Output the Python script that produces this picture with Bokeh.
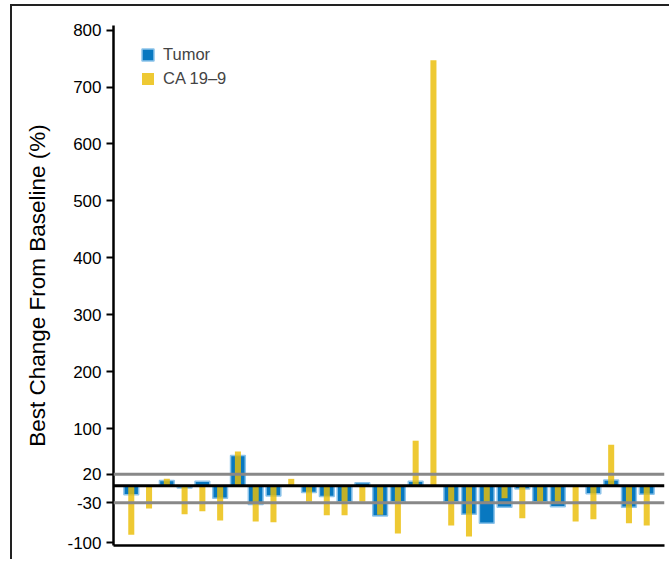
from bokeh.plotting import figure
from bokeh.models import ColumnDataSource, Span, FixedTicker, Legend, LegendItem
from bokeh.embed import file_html
from bokeh.resources import INLINE

patients = list(range(1, 31))
tumor = [-16, None, 9, -4, 8, -22, 53, -33, -18, None, -12, -19, -28, 5, -53,
         -28, 8, None, -28, -50, -66, -38, -6, -28, -37, None, -14, 10, -38, -15]
ca199 = [-86, -40, 12, -50, -45, -61, 60, -63, -64, 12, -28, -52, -52, -28, -51,
         -84, 79, 747, -70, -89, -28, -22, -57, -28, -28, -63, -59, 72, -66, -70]
y_ticks = [-100, -30, 20, 100, 200, 300, 400, 500, 600, 700, 800]
ref_lines = [20, -30]

FONT = "Liberation Sans"

tx = [p for p, t in zip(patients, tumor) if t is not None]
tv = [t for t in tumor if t is not None]
src_t = ColumnDataSource(dict(x=tx, top=tv))
src_c = ColumnDataSource(dict(x=patients, top=ca199))

p = figure(width=659, height=555, x_range=(0, 31), y_range=(-105, 808),
           output_backend="svg", toolbar_location=None,
           min_border_left=101, min_border_top=19, min_border_right=7,
           min_border_bottom=16)
p.styles = {"margin-left": "10px", "margin-top": "4px",
            "border-left": "2px solid #222", "border-top": "2px solid #222"}
p.outline_line_color = None
p.xgrid.visible = False
p.ygrid.visible = False

rt = p.vbar(x="x", top="top", bottom=0, width=0.83, source=src_t,
            fill_color="#0878C0", line_color="#8cc3ea", line_width=1.5)
rc = p.vbar(x="x", top="top", bottom=0, width=0.34, source=src_c,
            fill_color="#EABD06", fill_alpha=0.82, line_color=None)

for v in ref_lines:
    p.add_layout(Span(location=v, dimension="width", line_color="#888888", line_width=3))
p.add_layout(Span(location=0, dimension="width", line_color="black", line_width=3))

p.yaxis.ticker = FixedTicker(ticks=y_ticks)
p.yaxis.major_label_overrides = {t: str(t) for t in y_ticks}
p.yaxis.minor_tick_line_color = None
p.yaxis.major_tick_out = 7
p.yaxis.major_tick_in = 0
p.yaxis.major_tick_line_width = 2
p.yaxis.axis_line_width = 2.5
p.yaxis.major_label_text_font = FONT
p.yaxis.major_label_text_font_size = "17px"
p.yaxis.major_label_text_color = "black"
p.yaxis.axis_label = "Best Change From Baseline (%)"
p.yaxis.axis_label_text_font = FONT
p.yaxis.axis_label_text_font_size = "22.5px"
p.yaxis.axis_label_text_font_style = "normal"
p.yaxis.axis_label_text_color = "black"
p.yaxis.axis_label_standoff = 14

p.xaxis.ticker = FixedTicker(ticks=[])
p.xaxis.minor_tick_line_color = None
p.xaxis.major_tick_line_color = None
p.xaxis.axis_line_width = 2.5
p.xaxis.major_label_text_font_size = "0px"

legend = Legend(items=[LegendItem(label="Tumor", renderers=[rt]),
                       LegendItem(label="CA 19\u20139", renderers=[rc])],
                location=(27, 457), margin=0, padding=0, spacing=4,
                glyph_width=15, glyph_height=15, label_height=20,
                label_standoff=8, label_text_font=FONT,
                label_text_font_size="16.5px", border_line_color=None,
                background_fill_alpha=0)
p.add_layout(legend)

open("out.html", "w").write(file_html(p, INLINE))
